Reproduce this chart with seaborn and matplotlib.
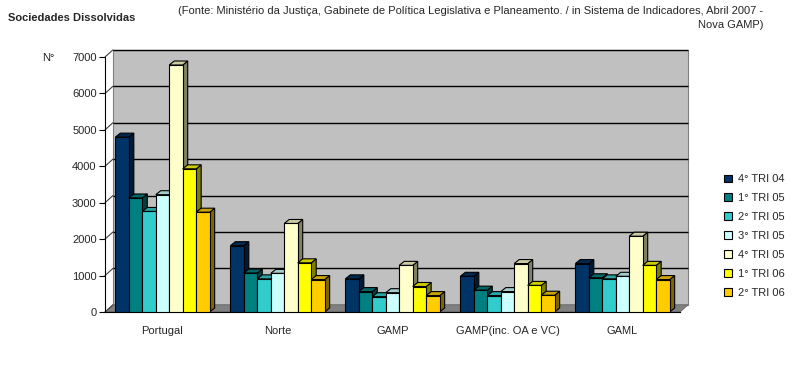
import numpy as np
import pandas as pd
import matplotlib
matplotlib.use("Agg")
import matplotlib.pyplot as plt
import seaborn as sns
from matplotlib.patches import Polygon, Patch, Rectangle
from matplotlib.transforms import ScaledTranslation, IdentityTransform
from matplotlib.colors import to_rgb

# ---- data ----
categories = ["Portugal", "Norte", "GAMP", "GAMP(inc. OA e VC)", "GAML"]
series = ["4° TRI 04", "1° TRI 05", "2° TRI 05", "3° TRI 05", "4° TRI 05", "1° TRI 06", "2° TRI 06"]
tri04_4 = [4800, 1820, 910, 980, 1330]
tri05_1 = [3130, 1070, 560, 600, 940]
tri05_2 = [2760, 910, 420, 450, 910]
tri05_3 = [3220, 1060, 530, 560, 980]
tri05_4 = [6780, 2430, 1280, 1330, 2080]
tri06_1 = [3930, 1350, 700, 730, 1280]
tri06_2 = [2740, 890, 450, 460, 890]
yticks = [0, 1000, 2000, 3000, 4000, 5000, 6000, 7000]
colors = ["#003366", "#008080", "#33CCCC", "#CCFFFF", "#FFFFCC", "#FFFF00", "#FFCC00"]

all_vals = [tri04_4, tri05_1, tri05_2, tri05_3, tri05_4, tri06_1, tri06_2]
rows = []
for s, vals in zip(series, all_vals):
    for c, v in zip(categories, vals):
        rows.append({"cat": c, "series": s, "val": v})
df = pd.DataFrame(rows)

sns.set_style("white")
plt.rcParams["font.family"] = ["Liberation Sans", "DejaVu Sans"]

W, H = 800, 388
fig = plt.figure(figsize=(W / 100, H / 100), dpi=100)
ax = fig.add_axes([105 / W, 76 / H, 575 / W, 255 / H])
ax.set_facecolor("none")

sns.barplot(data=df, x="cat", y="val", hue="series", palette=colors,
            order=categories, hue_order=series, width=0.82, saturation=1,
            edgecolor="black", linewidth=0.8, legend=False, ax=ax, zorder=3)

ax.set_xlim(-0.5, 4.5)
ax.set_ylim(0, 7000)
ax.set_xlabel("")
ax.set_ylabel("")
ax.set_yticks(yticks)
ax.set_yticklabels([str(t) for t in yticks], fontsize=8)
ax.set_xticks(range(len(categories)))
ax.set_xticklabels(categories, fontsize=8)
ax.set_xticks(np.arange(-0.5, len(categories), 1.0), minor=True)
ax.tick_params(axis="x", which="major", length=0, pad=10)
ax.tick_params(axis="x", which="minor", length=4, width=0.8, color="black", direction="out")
ax.tick_params(axis="y", length=4, width=0.8, color="black", direction="out", left=True, pad=2)
for side in ["top", "right"]:
    ax.spines[side].set_visible(False)
ax.spines["left"].set_color("black")
ax.spines["left"].set_linewidth(0.8)
ax.spines["bottom"].set_color("black")
ax.spines["bottom"].set_linewidth(0.8)

WD = 8  # wall depth in px
BD = 5  # bar depth in px
off = ScaledTranslation(WD / 100, WD / 100 * 0.9, fig.dpi_scale_trans)

# back wall
ax.add_patch(Rectangle((0, 0), 1, 1, transform=ax.transAxes + off,
                       facecolor="#C0C0C0", edgecolor="#808080", lw=0.8, zorder=0.5, clip_on=False))
# gridlines on back wall
ax.hlines(yticks[1:], -0.5, 4.5, colors="black", lw=1.0, transform=ax.transData + off,
          zorder=1, clip_on=False)

fig.canvas.draw()
T = ax.transData
dy = WD * 0.9
for t in yticks[1:]:
    x0, y0 = T.transform((-0.5, t))
    ax.plot([x0, x0 + WD], [y0, y0 + dy], color="#404040", lw=0.8,
            transform=IdentityTransform(), zorder=1, clip_on=False)
# floor
fx0, fy0 = T.transform((-0.5, 0))
fx1, _ = T.transform((4.5, 0))
ax.add_patch(Polygon([(fx0, fy0), (fx1, fy0), (fx1 + WD, fy0 + dy), (fx0 + WD, fy0 + dy)],
                     closed=True, transform=IdentityTransform(), facecolor="#808080",
                     edgecolor="#606060", lw=0.6, zorder=2, clip_on=False))
ax.plot([fx0, fx0 + WD], [fy0, fy0 + dy], color="#404040", lw=0.8,
        transform=IdentityTransform(), zorder=2, clip_on=False)

# 3D bar faces
bars = [p for p in ax.patches if isinstance(p, Rectangle) and p.get_height() > 0 and p.get_width() < 1]
bars.sort(key=lambda p: p.get_x())
for i, p in enumerate(bars):
    z = 3 + i * 0.01
    p.set_zorder(z)
    x0, y0 = T.transform((p.get_x(), 0))
    x1, y1 = T.transform((p.get_x() + p.get_width(), p.get_height()))
    c = np.array(to_rgb(p.get_facecolor()))
    side = tuple(c * 0.5)
    top = tuple(c * 0.8)
    ax.add_patch(Polygon([(x1, y0), (x1 + BD, y0 + BD * 0.8), (x1 + BD, y1 + BD * 0.8), (x1, y1)],
                         closed=True, transform=IdentityTransform(), facecolor=side,
                         edgecolor="black", lw=0.8, zorder=z - 0.005, clip_on=False))
    ax.add_patch(Polygon([(x0, y1), (x0 + BD, y1 + BD * 0.8), (x1 + BD, y1 + BD * 0.8), (x1, y1)],
                         closed=True, transform=IdentityTransform(), facecolor=top,
                         edgecolor="black", lw=0.8, zorder=z - 0.005, clip_on=False))

# legend
handles = [Patch(facecolor=c, edgecolor="black", lw=0.8) for c in colors]
fig.legend(handles, series, loc="center left", bbox_to_anchor=(714 / W, 1 - 236 / H),
           frameon=False, fontsize=8, handlelength=0.7, handleheight=0.7,
           handletextpad=0.6, labelspacing=0.8)

# texts
fig.text(8 / W, 1 - 18 / H, "Sociedades Dissolvidas", fontsize=8, fontweight="bold",
         ha="left", va="center")
fig.text(763 / W, 1 - 18 / H,
         "(Fonte: Ministério da Justiça, Gabinete de Política Legislativa e Planeamento. / in Sistema de Indicadores, Abril 2007 -\nNova GAMP)",
         fontsize=8, ha="right", va="center", multialignment="right", linespacing=1.5)
fig.text(48 / W, 1 - 58 / H, "N°", fontsize=8, ha="center", va="center")

fig.savefig("out.png", dpi=100)
